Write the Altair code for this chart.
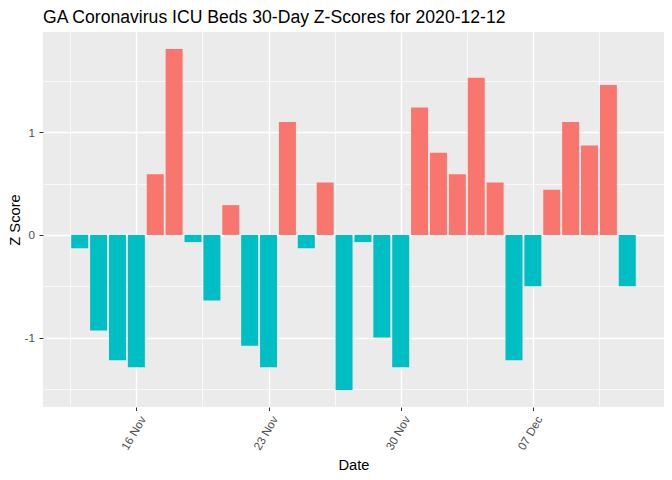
import altair as alt
import pandas as pd

dates = pd.date_range("2020-11-13", "2020-12-12", freq="D").strftime("%Y-%m-%d").tolist()
zscores = [-0.13, -0.93, -1.22, -1.29, 0.59, 1.81, -0.07, -0.64, 0.29, -1.08,
           -1.29, 1.10, -0.13, 0.51, -1.51, -0.07, -1.00, -1.29, 1.24, 0.80,
           0.59, 1.53, 0.51, -1.22, -0.50, 0.44, 1.10, 0.87, 1.46, -0.50]
major_ticks = ["2020-11-16", "2020-11-23", "2020-11-30", "2020-12-07"]
minor_ticks = ["2020-11-12T12:00", "2020-11-19T12:00", "2020-11-26T12:00",
               "2020-12-03T12:00", "2020-12-10T12:00"]
y_major = [-1, 0, 1]
y_minor = [-1.5, -0.5, 0.5, 1.5]

DAY = 86400000
ts = pd.to_datetime(pd.Series(dates)).astype("int64") // 10**6
df = pd.DataFrame({
    "date": dates,
    "z": zscores,
    "sign": ["pos" if v > 0 else "neg" for v in zscores],
    "start": (ts - 0.45 * DAY).astype(float),
    "end": (ts + 0.45 * DAY).astype(float),
})

xmin = float(df["start"].min()); xmax = float(df["end"].max())
xe = 0.05 * (xmax - xmin)
xdom = [xmin - xe, xmax + xe]
ymin = min(zscores); ymax = max(zscores)
ye = 0.05 * (ymax - ymin)
ydom = [ymin - ye, ymax + ye]

to_ms = lambda lst: [int(pd.Timestamp(s).value // 10**6) for s in lst]

xscale = alt.Scale(type="utc", domain=xdom, nice=False)
yscale = alt.Scale(domain=ydom, nice=False, zero=False)

FONT = "Liberation Sans"

bars = alt.Chart(df).mark_bar().encode(
    x=alt.X("start:T", scale=xscale, title="Date",
            axis=alt.Axis(values=to_ms(major_ticks),
                          labelExpr="utcFormat(datum.value, '%d %b')",
                          labelAngle=-60, labelAlign="right", labelBaseline="middle",
                          labelOffset=6,
                          grid=True, gridColor="white", gridWidth=1.4,
                          tickColor="#333333", tickSize=3.5, domain=False,
                          labelColor="#4D4D4D", labelFontSize=11.7, labelFont=FONT,
                          titleFont=FONT, titleFontSize=14.7, titleFontWeight="normal",
                          titleColor="black", labelPadding=6, titlePadding=6)),
    x2="end:T",
    y=alt.Y("z:Q", scale=yscale, title="Z Score",
            axis=alt.Axis(values=y_major, labelExpr="'' + datum.value",
                          grid=True, gridColor="white", gridWidth=1.4,
                          tickColor="#333333", tickSize=4, domain=False,
                          labelColor="#4D4D4D", labelFontSize=11.7, labelFont=FONT,
                          titleFont=FONT, titleFontSize=14.7, titleFontWeight="normal",
                          titleColor="black", labelPadding=4.5, titlePadding=2)),
    y2=alt.datum(0),
    color=alt.Color("sign:N", scale=alt.Scale(domain=["pos", "neg"],
                                             range=["#F8766D", "#00BFC4"]),
                    legend=None),
)

minor = alt.Chart(df).mark_bar(opacity=0).encode(
    x=alt.X("start:T", scale=xscale, title=None,
            axis=alt.Axis(values=to_ms(minor_ticks), grid=True, gridColor="white",
                          gridWidth=0.7, labels=False, ticks=False, domain=False)),
    x2="end:T",
    y=alt.Y("z:Q", scale=yscale, title=None,
            axis=alt.Axis(values=y_minor, grid=True, gridColor="white",
                          gridWidth=0.7, labels=False, ticks=False, domain=False)),
    y2=alt.datum(0),
)

chart = alt.layer(bars, minor).resolve_axis(x="independent", y="independent").properties(
    width=621, height=375,
    background="white",
    autosize=alt.AutoSizeParams(type="none"),
    padding={"left": 35, "top": 24, "right": 0, "bottom": 70},
    title=alt.TitleParams("GA Coronavirus ICU Beds 30-Day Z-Scores for 2020-12-12",
                          anchor="start", frame="group", font=FONT, fontSize=17.6,
                          fontWeight="normal", color="black", offset=5),
).configure_view(fill="#EBEBEB", stroke=None)

chart.save("out.html", embed_options={"renderer": "svg", "actions": False})
